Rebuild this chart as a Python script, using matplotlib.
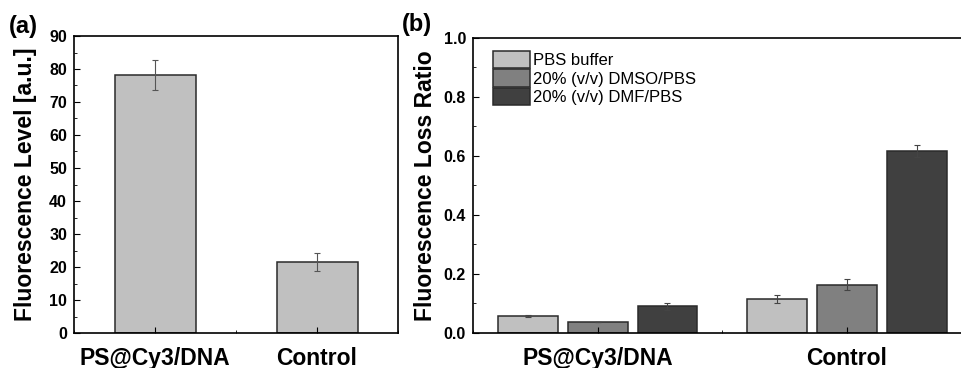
"""Fluorescence level and loss ratio bar charts."""
import numpy as np
import matplotlib.pyplot as plt
from matplotlib.ticker import MultipleLocator

plt.rcParams['font.family'] = ['Liberation Sans', 'DejaVu Sans']

# panel (a)
grupos = ["PS@Cy3/DNA", "Control"]
nivel = [78.2, 21.6]
nivel_err = [4.5, 2.7]

# panel (b)
series = ["PBS buffer", "20% (v/v) DMSO/PBS", "20% (v/v) DMF/PBS"]
perdida = [[0.058, 0.115],
           [0.037, 0.163],
           [0.091, 0.615]]
perdida_err = [[0.003, 0.015],
               [0.001, 0.019],
               [0.012, 0.020]]
colores = ["#c0c0c0", "#808080", "#404040"]

fig = plt.figure(figsize=(9.61, 3.68), dpi=100)
ax1 = fig.add_axes([74 / 961, 1 - 333 / 368, 324 / 961, 297 / 368])
ax2 = fig.add_axes([473 / 961, 1 - 333 / 368, 498.5 / 961, 295.3 / 368])

x = np.arange(1, len(grupos) + 1)
ax1.bar(x, nivel, width=0.5, color="#c0c0c0", edgecolor="#2a2a2a", linewidth=1.1,
        yerr=nivel_err, capsize=2.5, error_kw=dict(ecolor="#555555", elinewidth=0.8, capthick=0.8))
ax1.set_xlim(0.5, 2.5)
ax1.set_ylim(0, 90)
ax1.yaxis.set_major_locator(MultipleLocator(10))
ax1.yaxis.set_minor_locator(MultipleLocator(5))
ax1.set_ylabel("Fluorescence Level [a.u.]", fontsize=16.5, fontweight="bold", labelpad=9)

ancho = 0.24
paso = 0.28
for i, (nombre, vals, errs, c) in enumerate(zip(series, perdida, perdida_err, colores)):
    ax2.bar(x + (i - 1) * paso, vals, width=ancho, color=c, edgecolor="#2a2a2a", linewidth=1.1,
            yerr=errs, capsize=2.5, label=nombre,
            error_kw=dict(ecolor="#444444", elinewidth=0.8, capthick=0.8))
ax2.set_xlim(0.5, 2.5)
ax2.set_ylim(0, 1.0)
ax2.yaxis.set_major_locator(MultipleLocator(0.2))
ax2.yaxis.set_minor_locator(MultipleLocator(0.1))
ax2.set_ylabel("Fluorescence Loss Ratio", fontsize=16.5, fontweight="bold", labelpad=5)
ax2.legend(loc="upper left", bbox_to_anchor=(0.02, 0.99), frameon=False, fontsize=12,
           handlelength=2.2, handleheight=1.2, handletextpad=0.2, labelspacing=0.1,
           borderaxespad=0.2)

for ax in (ax1, ax2):
    ax.set_xticks(x)
    ax.set_xticklabels(grupos, fontsize=16.5, fontweight="bold")
    ax.xaxis.set_minor_locator(MultipleLocator(0.5))
    ax.tick_params(axis="both", which="both", direction="in")
    ax.tick_params(axis="x", which="major", length=4, pad=10)
    ax.tick_params(axis="x", which="minor", length=2)
    ax.tick_params(axis="y", which="major", length=4, pad=5, labelsize=11.5)
    ax.tick_params(axis="y", which="minor", length=2)
    for lbl in ax.get_yticklabels():
        lbl.set_fontweight("bold")
    for s in ax.spines.values():
        s.set_linewidth(1.2)

fig.text(9 / 961, 1 - 27 / 368, "(a)", fontsize=17, fontweight="bold", va="center", ha="left")
fig.text(402 / 961, 1 - 25 / 368, "(b)", fontsize=17, fontweight="bold", va="center", ha="left")

fig.savefig("out.png", dpi=100)
